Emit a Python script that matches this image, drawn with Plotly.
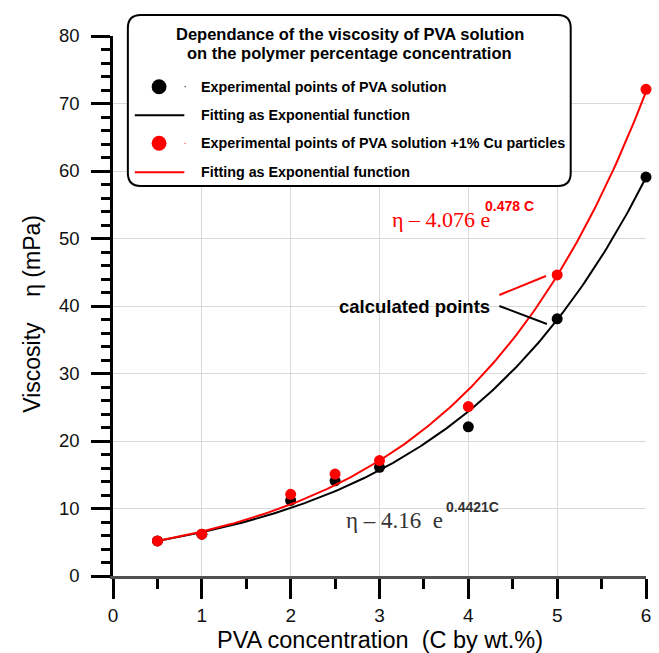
import numpy as np
import plotly.graph_objects as go

# PVA concentration (wt.%) at which viscosity was measured
conc = [0.5, 1, 2, 2.5, 3, 4, 5, 6]

# Viscosity (mPa) of PVA solution
visc_pva = [5.2, 6.2, 11.2, 14.1, 16.1, 22.1, 38.1, 59.1]
# Viscosity (mPa) of PVA solution + 1% Cu particles
visc_pva_cu = [5.2, 6.2, 12.1, 15.1, 17.1, 25.1, 44.6, 72.1]

# Exponential fits  eta = A * exp(k * C)
fit_pva = (4.16, 0.4421)
fit_pva_cu = (4.076, 0.478)

x_ticks = [0, 1, 2, 3, 4, 5, 6]
y_ticks = [0, 10, 20, 30, 40, 50, 60, 70, 80]

W, H = 659, 653
ML, MR, MT, MB = 113, 8, 36, 77
SANS = "Liberation Sans, Arial, sans-serif"
SERIF = "Liberation Serif, Times New Roman, serif"
RED = "#ff0000"


def px(x):
    return (x - ML) / (W - ML - MR)


def py(y):
    return (H - MB - y) / (H - MT - MB)


c_fine = np.linspace(min(conc), max(conc), 200)
fit_curve_pva = fit_pva[0] * np.exp(fit_pva[1] * c_fine)
fit_curve_cu = fit_pva_cu[0] * np.exp(fit_pva_cu[1] * c_fine)

fig = go.Figure()
fig.add_trace(go.Scatter(x=c_fine, y=fit_curve_pva, mode="lines",
                         line=dict(color="black", width=2), cliponaxis=False))
fig.add_trace(go.Scatter(x=conc, y=visc_pva, mode="markers",
                         marker=dict(color="black", size=11), cliponaxis=False))
fig.add_trace(go.Scatter(x=c_fine, y=fit_curve_cu, mode="lines",
                         line=dict(color=RED, width=2), cliponaxis=False))
fig.add_trace(go.Scatter(x=conc, y=visc_pva_cu, mode="markers",
                         marker=dict(color=RED, size=11), cliponaxis=False))

shapes = []
annotations = []

# ---- legend box with rounded corners ----
x0, x1, y0, y1, r = 128, 575, 15, 186, 13
path = (f"M {px(x0 + r)},{py(y0)} L {px(x1 - r)},{py(y0)} "
        f"Q {px(x1)},{py(y0)} {px(x1)},{py(y0 + r)} "
        f"L {px(x1)},{py(y1 - r)} Q {px(x1)},{py(y1)} {px(x1 - r)},{py(y1)} "
        f"L {px(x0 + r)},{py(y1)} Q {px(x0)},{py(y1)} {px(x0)},{py(y1 - r)} "
        f"L {px(x0)},{py(y0 + r)} Q {px(x0)},{py(y0)} {px(x0 + r)},{py(y0)} Z")
shapes.append(dict(type="path", xref="paper", yref="paper", path=path,
                   fillcolor="white", line=dict(color="black", width=2), layer="above"))

annotations.append(dict(text="Dependance of the viscosity of PVA solution",
                        x=px(352), y=py(33.5), xref="paper", yref="paper",
                        xanchor="center", yanchor="middle", showarrow=False,
                        font=dict(family=SANS, size=16.5, color="black", weight="bold")))
annotations.append(dict(text="on the polymer percentage concentration",
                        x=px(352), y=py(52.7), xref="paper", yref="paper",
                        xanchor="center", yanchor="middle", showarrow=False,
                        font=dict(family=SANS, size=16.5, color="black", weight="bold")))

legend_rows = [
    ("marker", "black", "Experimental points of PVA solution", 86.7),
    ("line", "black", "Fitting as Exponential function", 115.3),
    ("marker", RED, "Experimental points of PVA solution +1% Cu particles", 143.3),
    ("line", RED, "Fitting as Exponential function", 172.3),
]
for kind, col, label, yy in legend_rows:
    if kind == "marker":
        rad = 7.5
        shapes.append(dict(type="circle", xref="paper", yref="paper",
                           x0=px(159.5 - rad), x1=px(159.5 + rad),
                           y0=py(yy + rad), y1=py(yy - rad),
                           fillcolor=col, line=dict(width=0), layer="above"))
        shapes.append(dict(type="circle", xref="paper", yref="paper",
                           x0=px(185.2), x1=px(186.4), y0=py(yy + 0.6), y1=py(yy - 0.6),
                           fillcolor=col, line=dict(width=0), layer="above"))
    else:
        shapes.append(dict(type="line", xref="paper", yref="paper",
                           x0=px(135), x1=px(185), y0=py(yy), y1=py(yy),
                           line=dict(color=col, width=2), layer="above"))
    annotations.append(dict(text=label, x=px(200), y=py(yy), xref="paper", yref="paper",
                            xanchor="left", yanchor="middle", showarrow=False,
                            font=dict(family=SANS, size=14.3, color="black", weight="bold")))

# ---- fit equation labels ----
shapes.append(dict(type="rect", xref="paper", yref="paper",
                   x0=px(384), x1=px(556), y0=py(237), y1=py(198),
                   fillcolor="white", line=dict(width=0), layer="between"))
shapes.append(dict(type="rect", xref="paper", yref="paper",
                   x0=px(340), x1=px(533), y0=py(537), y1=py(498),
                   fillcolor="white", line=dict(width=0), layer="between"))

annotations.append(dict(text=f"η – {fit_pva_cu[0]} e", x=px(393), y=py(219),
                        xref="paper", yref="paper", xanchor="left", yanchor="middle",
                        showarrow=False, font=dict(family=SERIF, size=22, color=RED)))
annotations.append(dict(text=f"{fit_pva_cu[1]} C", x=px(486), y=py(206),
                        xref="paper", yref="paper", xanchor="left", yanchor="middle",
                        showarrow=False,
                        font=dict(family=SANS, size=14, color=RED, weight="bold")))

annotations.append(dict(text=f"η – {fit_pva[0]}  e", x=px(346), y=py(520),
                        xref="paper", yref="paper", xanchor="left", yanchor="middle",
                        showarrow=False, font=dict(family=SERIF, size=23, color="#333333")))
annotations.append(dict(text=f"{fit_pva[1]}C", x=px(447), y=py(507),
                        xref="paper", yref="paper", xanchor="left", yanchor="middle",
                        showarrow=False,
                        font=dict(family=SANS, size=14, color="#333333", weight="bold")))

# ---- "calculated points" callout ----
annotations.append(dict(text="calculated points", x=px(496), y=py(307),
                        xref="paper", yref="paper", xanchor="right", yanchor="middle",
                        showarrow=False,
                        font=dict(family=SANS, size=18.5, color="black", weight="bold")))
shapes.append(dict(type="line", xref="paper", yref="paper",
                   x0=px(503), y0=py(295), x1=px(550), y1=py(276),
                   line=dict(color=RED, width=2)))
shapes.append(dict(type="line", xref="paper", yref="paper",
                   x0=px(503), y0=py(306), x1=px(551), y1=py(324),
                   line=dict(color="black", width=2)))

# ---- axis titles ----
annotations.append(dict(text="PVA concentration  (C by wt.%)", x=0.5, y=py(640),
                        xref="paper", yref="paper", xanchor="center", yanchor="middle",
                        showarrow=False, borderpad=0,
                        font=dict(family=SANS, size=23.5, color="black")))
annotations.append(dict(text="Viscosity    η (mPa)", x=px(31), y=py(314),
                        xref="paper", yref="paper", xanchor="center", yanchor="middle",
                        textangle=-90, showarrow=False,
                        font=dict(family=SANS, size=23, color="black")))

fig.update_layout(
    width=W, height=H,
    margin=dict(l=ML, r=MR, t=MT, b=MB),
    paper_bgcolor="white", plot_bgcolor="white",
    showlegend=False,
    shapes=shapes, annotations=annotations,
    xaxis=dict(range=[0, 6], tickvals=x_ticks, ticks="outside", ticklen=20,
               tickwidth=2.5, tickcolor="black", showline=True, linecolor="#505050",
               linewidth=3, showgrid=True, gridcolor="#d9d9d9", gridwidth=1,
               zeroline=False, ticklabelstandoff=0,
               tickfont=dict(family=SANS, size=19, color="#111111"),
               minor=dict(dtick=0.5, tick0=0, ticks="outside", ticklen=10, tickwidth=2.5,
                          tickcolor="black", showgrid=False)),
    yaxis=dict(range=[0, 80], tickvals=y_ticks, ticks="outside", ticklen=19,
               tickwidth=2.5, tickcolor="black", showline=True, linecolor="black",
               linewidth=2.5, showgrid=True, gridcolor="#d9d9d9", gridwidth=1,
               zeroline=False, ticklabelstandoff=8,
               tickfont=dict(family=SANS, size=18.5, color="#111111"),
               minor=dict(dtick=2, tick0=0, ticks="outside", ticklen=9, tickwidth=2.5,
                          tickcolor="black", showgrid=False)),
)

fig.write_html("out.html")
